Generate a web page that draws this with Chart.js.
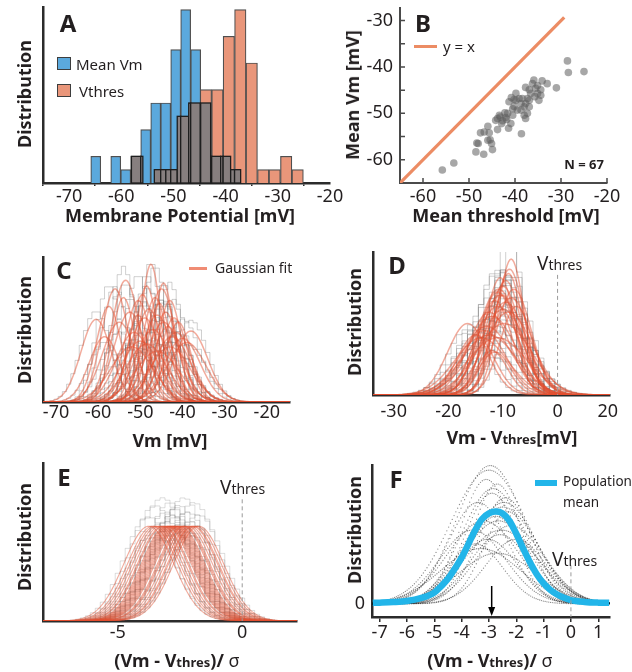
<!DOCTYPE html>
<html>
<head>
<meta charset="utf-8">
<title>Membrane potential distributions</title>
<script src="https://cdn.jsdelivr.net/npm/chart.js@4.4.1/dist/chart.umd.min.js"></script>
<style>
  body { margin: 0; width: 632px; height: 672px; position: relative; overflow: hidden; background: #fff;
         font-family: 'Noto Sans', sans-serif; color: #231f20; }
  .box { position: absolute; }
  .box canvas { display: block; }
  .t { position: absolute; white-space: nowrap; line-height: 1; transform: translate(-50%, -50%); }
  .l { position: absolute; white-space: nowrap; line-height: 1; transform: translateY(-50%); }
  .rot { transform: translate(-50%, -50%) rotate(-90deg); }
  .letter { font-weight: bold; font-size: 24px; }
  .ax { font-weight: bold; font-size: 18px; }
  .sub { font-size: 13px; }
  .sw { position: absolute; box-sizing: border-box; }
  .vt { font-size: 19px; }
  .vt span { font-size: 14px; }
</style>
</head>
<body>

<div class="box" id="pA"></div>
<div class="box" id="pB"></div>
<div class="box" id="pC"></div>
<div class="box" id="pD"></div>
<div class="box" id="pE"></div>
<div class="box" id="pF"></div>

<!-- A -->
<div class="t letter" style="left:68px;top:23px">A</div>
<div class="sw" style="left:57px;top:57px;width:14px;height:13px;background:#5ba9dd;border:1.5px solid #3d3d3d"></div>
<div class="l" style="left:76px;top:64px;font-size:15px">Mean Vm</div>
<div class="sw" style="left:57px;top:84px;width:14px;height:13px;background:#e9967a;border:1.5px solid #3d3d3d"></div>
<div class="l" style="left:79px;top:91px;font-size:15px">Vthres</div>
<div class="t rot ax" style="left:24px;top:94px">Distribution</div>
<div class="t ax" style="left:180px;top:215px">Membrane Potential [mV]</div>

<!-- B -->
<div class="t letter" style="left:423px;top:23px">B</div>
<div class="sw" style="left:414px;top:45px;width:23px;height:3px;background:#ec8c64"></div>
<div class="l" style="left:443px;top:46px;font-size:15px">y = x</div>
<div class="t" style="left:584px;top:164px;font-size:13px;font-weight:bold">N = 67</div>
<div class="t rot ax" style="left:352px;top:95px">Mean Vm [mV]</div>
<div class="t ax" style="left:506px;top:215px">Mean threshold [mV]</div>

<!-- C -->
<div class="t letter" style="left:64px;top:270px">C</div>
<div class="sw" style="left:189px;top:267px;width:18px;height:3px;background:#f08c74"></div>
<div class="l" style="left:215px;top:268px;font-size:14px">Gaussian fit</div>
<div class="t rot ax" style="left:24px;top:330px">Distribution</div>
<div class="t ax" style="left:170px;top:440px">Vm [mV]</div>

<!-- D -->
<div class="t letter" style="left:397px;top:265px">D</div>
<div class="l vt" style="left:537px;top:263px">V<span>thres</span></div>
<div class="t rot ax" style="left:354px;top:322px">Distribution</div>
<div class="t ax" style="left:512px;top:437px">Vm - V<span class="sub">thres</span>[mV]</div>

<!-- E -->
<div class="t letter" style="left:64px;top:477px">E</div>
<div class="l vt" style="left:220px;top:487px">V<span>thres</span></div>
<div class="t rot ax" style="left:24px;top:537px">Distribution</div>
<div class="t ax" style="left:177px;top:660px">(Vm - V<span class="sub">thres</span>)/ <span style="font-weight:normal">σ</span></div>

<!-- F -->
<div class="t letter" style="left:396px;top:479px">F</div>
<div class="sw" style="left:535px;top:480px;width:22px;height:6px;background:#22b5e9"></div>
<div class="l" style="left:563px;top:482px;font-size:13.5px">Population</div>
<div class="l" style="left:563px;top:503px;font-size:13.5px">mean</div>
<div class="l vt" style="left:552px;top:559px">V<span>thres</span></div>
<div class="t rot ax" style="left:354px;top:530px">Distribution</div>
<div class="t ax" style="left:490px;top:660px">(Vm - V<span class="sub">thres</span>)/ <span style="font-weight:normal">σ</span></div>

<script>
// ---------- data ----------

// A: histograms (counts per bin, bin centres in mV)
const vmBinCenters  = [-64.89, -62.98, -61.06, -59.15, -57.23, -55.32, -53.40, -51.49, -49.57, -47.66, -45.74, -43.83, -41.91, -40.00, -38.08];
const vmCounts      = [2, 0, 2, 1, 2, 4, 6, 6, 10, 13, 10, 6, 2, 2, 1];
const thrBinCenters = [-56.96, -54.77, -52.57, -50.37, -48.18, -45.98, -43.78, -41.58, -39.39, -37.19, -35.00, -32.80, -30.60, -28.40, -26.20];
const thrCounts     = [2, 0, 1, 1, 5, 6, 7, 7, 11, 13, 9, 1, 1, 2, 1];
const aTicks = [-70, -60, -50, -40, -30, -20];

// B: mean threshold vs mean Vm, one point per cell (N = 67)
const bThreshold = [-55.8, -53.3, -48.3, -48.5, -46.8, -47.5, -45.9, -45.6, -45.4, -45.1, -44.9, -43.8, -43.2, -42.7, -42.2, -41.8, -41.4,
  -40.9, -40.5, -40.2, -40.8, -39.8, -39.5, -38.7, -38.6, -38.4, -38.0, -37.7, -37.7, -37.3, -36.9, -36.9, -36.6, -36.2, -35.9, -35.5,
  -35.1, -34.8, -34.4, -34.1, -33.0, -34.4, -31.0, -28.6, -28.4, -25.0, -46.7, -44.2, -43.4, -39.8, -39.1, -41.3, -40.5, -40.2, -38.0,
  -37.3, -37.7, -38.7, -36.9, -35.7, -43.8, -42.9, -42.0, -41.6, -48.0, -45.9, -35.1];
const bMeanVm = [-62.2, -60.7, -56.4, -58.3, -58.8, -54.2, -52.8, -54.2, -55.7, -56.5, -57.8, -53.5, -50.8, -51.6, -49.9, -51.3, -53.2,
  -52.2, -50.4, -48.5, -46.6, -45.7, -49.3, -47.9, -54.4, -46.8, -48.6, -44.4, -51.1, -50.0, -47.2, -48.6, -45.7, -43.6, -42.8, -44.6,
  -45.7, -47.2, -44.9, -43.0, -43.6, -46.1, -44.5, -38.7, -41.2, -41.0, -54.0, -51.5, -50.4, -47.2, -46.8, -47.5, -49.0, -47.0, -50.4,
  -46.8, -47.9, -49.3, -44.9, -46.4, -51.1, -52.2, -50.9, -50.0, -56.5, -55.8, -44.0];
const identityRange = [-65, -29.3];
const bTicksX = [-60, -50, -40, -30, -20];
const bTicksY = [-60, -55, -50, -45, -40, -35, -30];

// C: Gaussian fits of each cell's Vm distribution (mean, sd in mV, peak height)
const cMu    = [-60.5, -58.5, -57.5, -56.0, -55.0, -54.0, -53.5, -52.5, -52.0, -51.5, -50.5, -50.5, -50.0, -49.5, -49.0, -48.5, -48.5, -48.0, -47.5,
  -47.0, -46.5, -46.0, -46.0, -45.5, -45.0, -44.5, -44.5, -44.0, -43.5, -43.0, -43.0, -42.5, -42.0, -41.5, -41.0, -40.0, -39.0, -38.0];
const cSigma = [3.6, 3.6, 3.0, 3.2, 4.0, 2.8, 3.4, 3.8, 5.0, 4.2, 3.2, 2.6, 4.5, 3.0, 3.8, 2.6, 4.8, 3.5, 2.4,
  4.2, 3.0, 3.6, 5.2, 2.8, 3.4, 4.0, 2.4, 3.0, 3.6, 2.8, 4.8, 4.4, 3.2, 3.8, 3.0, 4.2, 4.6, 4.0];
const cPeak  = [0.57, 0.45, 0.66, 0.78, 0.55, 0.72, 0.84, 0.62, 0.38, 0.48, 0.70, 0.60, 0.42, 0.74, 0.58, 0.80, 0.40, 0.64, 0.95,
  0.50, 0.72, 0.60, 0.35, 0.68, 0.78, 0.55, 0.82, 0.62, 0.52, 0.70, 0.38, 0.45, 0.58, 0.48, 0.55, 0.44, 0.41, 0.49];
const cTicks = [-70, -60, -50, -40, -30, -20];

// D: fits relative to threshold (Vm - Vthres)
const dMu    = [-8.5, -16.5, -15.0, -12.0, -11.5, -9.0, -9.5, -10.0, -10.5, -11.0, -9.5, -10.0, -11.0, -12.0, -12.5,
  -13.0, -8.0, -8.5, -9.0, -10.5, -11.5, -13.5, -14.0, -9.8, -7.5, -10.0, -12.5, -11.0, -8.8, -10.8];
const dSigma = [2.4, 3.6, 3.4, 2.8, 3.0, 2.6, 3.0, 3.2, 3.6, 3.4, 3.8, 4.2, 4.0, 4.4, 3.8,
  4.6, 3.2, 3.6, 4.4, 2.8, 3.2, 4.0, 4.8, 5.0, 3.0, 2.4, 5.0, 5.4, 2.8, 3.8];
const dPeak  = [0.95, 0.50, 0.42, 0.31, 0.30, 0.85, 0.80, 0.76, 0.70, 0.72, 0.65, 0.60, 0.62, 0.55, 0.58,
  0.48, 0.74, 0.68, 0.58, 0.82, 0.66, 0.45, 0.40, 0.50, 0.62, 0.70, 0.42, 0.40, 0.88, 0.74];
const dTickValues = [-30, -20, -10, 0, 9.2];
const dTickLabels = ['-30', '-20', '-10', '0', '20'];

// E: fits normalised by each cell's sd (unit width, unit peak)
const eMu = [-3.75, -3.6, -3.5, -3.4, -3.3, -3.2, -3.15, -3.05, -3.0, -2.95, -2.9, -2.85, -2.8, -2.75,
  -2.7, -2.65, -2.6, -2.55, -2.5, -2.4, -2.35, -2.3, -2.2, -2.1, -2.0, -1.95, -1.85, -1.75];
const eSigma = 1;
const eTicks = [-5, 0];

// height of each raw histogram relative to its fit
const histGain = [1.1, 0.92, 1.22, 1.02, 0.88, 1.3, 0.97, 1.15, 1.05, 0.9, 1.25, 1.0, 1.12, 0.95, 1.18];

// F: normalised histograms (dots) and their population mean
const fDotMu  = [-3.6, -3.4, -3.2, -3.0, -2.9, -2.8, -2.7, -2.6, -2.5, -2.4, -2.2, -2.0, -3.3, -3.1, -2.95, -2.75, -2.55, -2.3, -3.5, -2.85, -2.65, -2.45, -3.05, -2.7];
const fDotSig = [1.2, 1.1, 1.3, 1.4, 1.0, 1.2, 0.9, 1.1, 1.3, 1.0, 1.2, 1.1, 1.45, 0.95, 1.25, 1.05, 1.35, 0.9, 1.0, 1.15, 1.3, 1.2, 1.1, 1.4];
const fDotAmp = [0.8, 1.1, 0.9, 1.45, 1.2, 1.0, 1.3, 0.75, 1.05, 1.15, 0.85, 0.7, 0.6, 1.35, 1.5, 0.95, 0.8, 1.0, 0.65, 1.25, 0.9, 1.1, 0.7, 0.55];
const fMeanX = [-7.25, -7, -6.5, -6, -5.5, -5, -4.75, -4.5, -4.25, -4, -3.75, -3.5, -3.25, -3, -2.75, -2.5, -2.25, -2, -1.75, -1.5,
  -1.25, -1, -0.75, -0.5, -0.25, 0, 0.5, 1, 1.4];
const fMeanY = [0.01, 0.012, 0.018, 0.03, 0.06, 0.12, 0.19, 0.27, 0.38, 0.5, 0.65, 0.8, 0.92, 0.98, 1.0, 0.98, 0.9, 0.76, 0.6, 0.45,
  0.32, 0.22, 0.15, 0.1, 0.065, 0.04, 0.02, 0.012, 0.01];
const fArrowAt = -2.9;
const fTicks = [-7, -6, -5, -4, -3, -2, -1, 0, 1];
const fYTicks = [0];

// ---------- drawing ----------
const FONT = "'Noto Sans', sans-serif";
const INK = '#231f20';
const AXIS = '#2b2b2b';
const FIT = 'rgba(228, 80, 48, 0.48)';
const HIST = 'rgba(100, 100, 100, 0.30)';
Chart.defaults.font.family = FONT;
Chart.defaults.color = INK;

function gauss(x, mu, sig) { return Math.exp(-0.5 * ((x - mu) / sig) ** 2); }

// sample a fitted Gaussian along the axis
function curve(mu, sig, amp, x0, x1, dx) {
  const pts = [];
  for (let x = x0; x <= x1 + 1e-9; x += dx) pts.push({ x: x, y: amp * gauss(x, mu, sig) });
  return pts;
}

function fitSets(mu, sig, peak, x0, x1, dx, bin, fitWidth, histColor) {
  const sets = [];
  mu.forEach((m, i) => {
    const s = Array.isArray(sig) ? sig[i] : sig;
    const p = Array.isArray(peak) ? peak[i] : peak;
    const lo = Math.max(x0, Math.floor((m - 3.2 * s - x0) / bin) * bin + x0);
    const hi = Math.min(x1, m + 3.2 * s);
    sets.push({ data: curve(m, s, p * histGain[i % histGain.length], lo, hi, bin), borderColor: histColor || HIST,
      borderWidth: 1, stepped: 'middle', pointRadius: 0, order: 2 });
    sets.push({ data: curve(m, s, p, x0, x1, dx), borderColor: FIT, borderWidth: fitWidth || 1.5,
      pointRadius: 0, tension: 0, order: 1 });
  });
  return sets;
}

// dashed Vthres marker
const thresholdLine = {
  id: 'thresholdLine',
  afterDatasetsDraw(chart, args, opts) {
    const { ctx, chartArea: ca, scales: { x } } = chart;
    const px = x.getPixelForValue(opts.at);
    const top = ca.bottom - (ca.bottom - ca.top) * opts.reach;
    ctx.save();
    ctx.strokeStyle = '#9a9a9a'; ctx.lineWidth = 1; ctx.setLineDash([4, 3]);
    ctx.beginPath(); ctx.moveTo(px, top); ctx.lineTo(px, ca.bottom); ctx.stroke();
    ctx.restore();
  }
};

// grey where the two histograms overlap
const overlapPlugin = {
  id: 'overlap',
  afterDatasetsDraw(chart) {
    const ctx = chart.ctx;
    const a = chart.getDatasetMeta(0).data, b = chart.getDatasetMeta(1).data;
    ctx.save();
    ctx.fillStyle = '#877f7f'; ctx.strokeStyle = '#1e1e1e'; ctx.lineWidth = 1.3;
    a.forEach(e1 => {
      const p = e1.getProps(['x', 'y', 'base', 'width'], true);
      b.forEach(e2 => {
        const q = e2.getProps(['x', 'y', 'base', 'width'], true);
        const l = Math.max(p.x - p.width / 2, q.x - q.width / 2);
        const r = Math.min(p.x + p.width / 2, q.x + q.width / 2);
        const top = Math.max(p.y, q.y);
        if (r - l > 0.5 && p.base - top > 0.5) {
          ctx.fillRect(l, top, r - l, p.base - top);
          ctx.strokeRect(l, top, r - l, p.base - top);
        }
      });
    });
    ctx.restore();
  }
};

// inward tick marks (panel B)
const innerTicks = {
  id: 'innerTicks',
  afterDraw(chart) {
    const { ctx, chartArea: ca, scales: { x, y } } = chart;
    ctx.save();
    ctx.strokeStyle = '#4a4a4a'; ctx.lineWidth = 1.5;
    ctx.beginPath();
    x.ticks.forEach(t => { const px = x.getPixelForValue(t.value); ctx.moveTo(px, ca.bottom); ctx.lineTo(px, ca.bottom - 5); });
    y.ticks.forEach(t => { const py = y.getPixelForValue(t.value); ctx.moveTo(ca.left, py); ctx.lineTo(ca.left + 5, py); });
    ctx.stroke();
    ctx.restore();
  }
};

// arrow at the population mean (panel F)
const meanArrow = {
  id: 'meanArrow',
  afterDatasetsDraw(chart, args, opts) {
    const { ctx, chartArea: ca, scales: { x } } = chart;
    const px = x.getPixelForValue(opts.at);
    const tip = ca.bottom - 1, tail = ca.bottom - 31;
    ctx.save();
    ctx.strokeStyle = '#000'; ctx.fillStyle = '#000'; ctx.lineWidth = 1.5;
    ctx.beginPath(); ctx.moveTo(px, tail); ctx.lineTo(px, tip - 6); ctx.stroke();
    ctx.beginPath(); ctx.moveTo(px - 3.5, tip - 9); ctx.lineTo(px + 3.5, tip - 9); ctx.lineTo(px, tip); ctx.closePath(); ctx.fill();
    ctx.restore();
  }
};

function makeChart(id, area, c) {
  const wrap = document.getElementById(id);
  wrap.style.left = (area.l - c.yw) + 'px';
  wrap.style.top = (area.t - c.padT) + 'px';
  wrap.style.width = (area.r - area.l + c.yw + c.padR) + 'px';
  wrap.style.height = (area.b - area.t + c.padT + c.xh) + 'px';
  const canvas = document.createElement('canvas');
  wrap.appendChild(canvas);
  const scales = {
    x: {
      type: 'linear', min: c.xMin, max: c.xMax, offset: false,
      afterBuildTicks: s => { s.ticks = c.xTicks.map(v => ({ value: v })); },
      afterFit: s => { s.height = c.xh; s.paddingLeft = 0; s.paddingRight = 0; },
      ticks: { padding: c.xPad, color: INK, font: { size: 18 }, maxRotation: 0, autoSkip: false,
        callback: (v, i) => (c.xLabels ? c.xLabels[i] : String(v)) },
      grid: { display: c.xTickLen > 0, drawOnChartArea: false, drawTicks: c.xTickLen > 0, tickLength: c.xTickLen,
        color: AXIS, lineWidth: 1.5 },
      border: { color: c.axisColor || AXIS, width: c.axisW || 2.5 }
    },
    y: {
      type: 'linear', min: c.yMin, max: c.yMax,
      afterBuildTicks: s => { s.ticks = (c.yTicks || []).map(v => ({ value: v })); },
      afterFit: s => { s.width = c.yw; s.paddingTop = 0; s.paddingBottom = 0; },
      ticks: { display: !!c.yTicks, padding: 7, color: INK, font: { size: 18 }, autoSkip: false,
        callback: v => (c.yLabel ? c.yLabel(v) : String(v)) },
      grid: { display: false, drawTicks: false, tickLength: 0 },
      border: { color: c.axisColor || AXIS, width: c.axisW || 2.5 }
    }
  };
  if (c.extraScales) Object.assign(scales, c.extraScales);
  return new Chart(canvas, {
    type: c.type || 'line',
    data: { datasets: c.datasets },
    options: {
      responsive: true, maintainAspectRatio: false, animation: false, events: [],
      layout: { padding: { top: c.padT, right: c.padR, left: 0, bottom: 0 } },
      plugins: Object.assign({ legend: { display: false }, tooltip: { enabled: false } }, c.pluginOpts || {}),
      scales: scales
    },
    plugins: c.plugins || []
  });
}

// A
const barStyle = { borderColor: '#4f4f4f', borderWidth: 1.2, barPercentage: 1, categoryPercentage: 1, grouped: false };
const histA = makeChart('pA', { l: 43, t: 7, r: 330, b: 183 }, {
  type: 'bar', yw: 10, xh: 30, padT: 4, padR: 20, xPad: 0, xTickLen: 3,
  xMin: -75, xMax: -20, xTicks: aTicks, yMin: 0, yMax: 13.2,
  datasets: [
    Object.assign({ data: vmBinCenters.map((x, i) => ({ x: x, y: vmCounts[i] })), backgroundColor: '#5ba9dd', xAxisID: 'x' }, barStyle),
    Object.assign({ data: thrBinCenters.map((x, i) => ({ x: x, y: thrCounts[i] })), backgroundColor: '#e9967a', xAxisID: 'x2' }, barStyle)
  ],
  extraScales: { x2: { type: 'linear', min: -75, max: -20, display: false, offset: false } },
  plugins: [overlapPlugin]
});
// bars as wide as one bin, measured through the x scale
[vmBinCenters, thrBinCenters].forEach((centers, k) => {
  const xs = histA.scales.x;
  histA.data.datasets[k].barThickness = Math.abs(xs.getPixelForValue(centers[1]) - xs.getPixelForValue(centers[0]));
});
histA.update('none');

// B
makeChart('pB', { l: 400, t: 8, r: 607, b: 183 }, {
  type: 'scatter', yw: 50, xh: 30, padT: 4, padR: 20, xPad: 3, xTickLen: 0,
  xMin: -65, xMax: -20, xTicks: bTicksX, yMin: -65, yMax: -27.3, yTicks: bTicksY,
  yLabel: v => (v % 10 === 0 ? String(v) : ''),
  axisColor: '#4a4a4a', axisW: 2,
  datasets: [
    { type: 'line', data: identityRange.map(v => ({ x: v, y: v })), borderColor: '#ec8c64', borderWidth: 3.2, pointRadius: 0 },
    { data: bThreshold.map((x, i) => ({ x: x, y: bMeanVm[i] })), backgroundColor: 'rgba(95,95,95,0.55)',
      borderWidth: 0, pointRadius: 3.8 }
  ],
  plugins: [innerTicks]
});

// C
makeChart('pC', { l: 43, t: 257, r: 290, b: 402 }, {
  yw: 10, xh: 30, padT: 4, padR: 20, xPad: 0, xTickLen: 0,
  xMin: -73.1, xMax: -14.5, xTicks: cTicks, yMin: 0, yMax: 1,
  datasets: fitSets(cMu, cSigma, cPeak, -74, -14, 0.3, 1.0)
});

// D
makeChart('pD', { l: 373, t: 252, r: 610, b: 395 }, {
  yw: 10, xh: 30, padT: 4, padR: 20, xPad: 6, xTickLen: 0,
  xMin: -33.8, xMax: 9.6, xTicks: dTickValues, xLabels: dTickLabels, yMin: 0, yMax: 1,
  datasets: fitSets(dMu, dSigma, dPeak, -34, 10, 0.25, 1.0),
  plugins: [thresholdLine], pluginOpts: { thresholdLine: { at: 0, reach: 0.84 } }
});

// E
makeChart('pE', { l: 43, t: 463, r: 297, b: 621 }, {
  yw: 10, xh: 30, padT: 4, padR: 20, xPad: 1, xTickLen: 0,
  xMin: -8, xMax: 2.2, xTicks: eTicks, yMin: 0, yMax: 1.667,
  datasets: fitSets(eMu, eSigma, 1, -8, 2.2, 0.05, 0.2, 1.1, 'rgba(100,100,100,0.22)'),
  plugins: [thresholdLine], pluginOpts: { thresholdLine: { at: 0, reach: 0.77 } }
});

// F: each normalised histogram sampled on its own, slightly shifted, bin grid
const fDots = [];
fDotMu.forEach((m, i) => {
  curve(m, fDotSig[i], fDotAmp[i], -7.28 + (i % 6) * 0.011, 1.43, 0.066).forEach(p => fDots.push(p));
});
makeChart('pF', { l: 372, t: 465, r: 610, b: 617 }, {
  yw: 30, xh: 30, padT: 4, padR: 20, xPad: 0, xTickLen: 5,
  xMin: -7.28, xMax: 1.43, xTicks: fTicks, yMin: -0.144, yMax: 1.506, yTicks: fYTicks,
  datasets: [
    { data: fMeanX.map((x, i) => ({ x: x, y: fMeanY[i] })), borderColor: '#22b5e9', borderWidth: 6.5,
      pointRadius: 0, tension: 0.4, cubicInterpolationMode: 'monotone' },
    { type: 'scatter', data: fDots, backgroundColor: 'rgba(0,0,0,0.45)', borderWidth: 0, pointRadius: 0.65 }
  ],
  plugins: [thresholdLine, meanArrow],
  pluginOpts: { thresholdLine: { at: 0, reach: 0.34 }, meanArrow: { at: fArrowAt } }
});
</script>
</body>
</html>
